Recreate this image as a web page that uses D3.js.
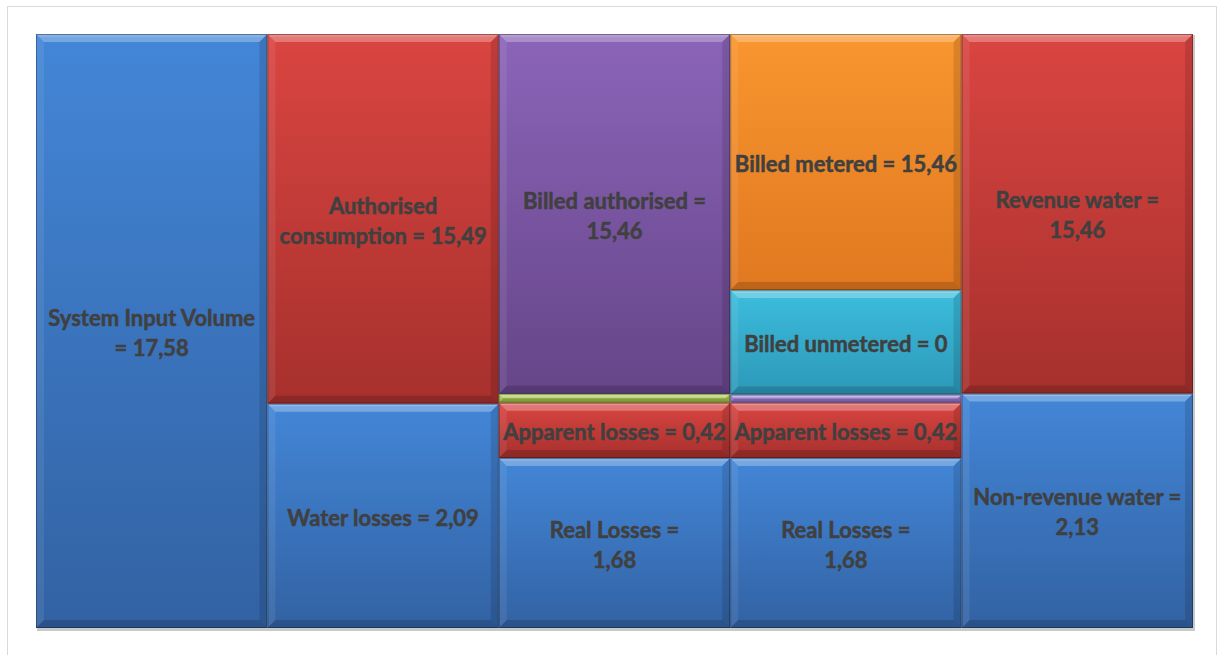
<!DOCTYPE html>
<html>
<head>
<meta charset="utf-8">
<script src="https://cdn.jsdelivr.net/npm/d3@7"></script>
<style>
  body { margin: 0; background: #fff; }
  svg { display: block; }
  text { font-family: Lato, "Open Sans", sans-serif; font-weight: bold; fill: #404040; stroke: #404040; stroke-width: 0.5px; }
</style>
</head>
<body>
<div id="chart"></div>
<script>
// columns of the water balance (no axis labels shown)
const categories = ["Input", "Consumption", "Billing", "Metering", "Revenue"];

// stacked segment heights per column, bottom to top
const segValues = [
  [17.58],
  [6.64, 10.94],
  [5.03, 1.64, 0.26, 10.65],
  [5.03, 1.64, 0.24, 3.09, 7.58],
  [6.94, 10.64]
];

// label text per segment ("" = no label)
const segLabels = [
  ["System Input Volume\n= 17,58"],
  ["Water losses = 2,09", "Authorised\nconsumption = 15,49"],
  ["Real Losses =\n1,68", "Apparent losses = 0,42", "", "Billed authorised =\n15,46"],
  ["Real Losses =\n1,68", "Apparent losses = 0,42", "", "Billed unmetered = 0", "Billed metered = 15,46"],
  ["Non-revenue water =\n2,13", "Revenue water =\n15,46"]
];

// colour keys per segment
const segColors = [
  ["blue"],
  ["blue", "red"],
  ["blue", "red", "green", "purple"],
  ["blue", "red", "lilac", "cyan", "orange"],
  ["blue", "red"]
];

const palette = {
  blue:   ["#4386d7", "#3262a3"],
  red:    ["#da4541", "#a6302d"],
  purple: ["#8b64b9", "#664588"],
  orange: ["#f9962f", "#e07820"],
  cyan:   ["#3cbddd", "#2d98b8"],
  green:  ["#b0d058", "#98b840"],
  lilac:  ["#a084d6", "#8a6cc2"]
};

const width = 1217, height = 655;
const margin = {left: 36, top: 34, right: 24, bottom: 27};

const svg = d3.select("#chart").append("svg")
  .attr("width", width)
  .attr("height", height);

// outer chart border
svg.append("rect")
  .attr("x", 7.5).attr("y", 6.5)
  .attr("width", 1209).attr("height", 660)
  .attr("fill", "none")
  .attr("stroke", "#d9d9d9");

const x = d3.scaleBand()
  .domain(categories)
  .range([margin.left, width - margin.right])
  .padding(0);

const y = d3.scaleLinear()
  .domain([0, 17.58])
  .range([height - margin.bottom, margin.top]);

// plot shadow
svg.append("rect")
  .attr("x", x.range()[0] + 1)
  .attr("y", y(17.58) + 1)
  .attr("width", x.range()[1] - x.range()[0] + 1)
  .attr("height", y(0) - y(17.58) + 2)
  .attr("fill", "#c9c9c9");

const defs = svg.append("defs");
Object.keys(palette).forEach(k => {
  const g = defs.append("linearGradient")
    .attr("id", "grad-" + k)
    .attr("x1", 0).attr("y1", 0).attr("x2", 0).attr("y2", 1);
  g.append("stop").attr("offset", "0%").attr("stop-color", palette[k][0]);
  g.append("stop").attr("offset", "100%").attr("stop-color", palette[k][1]);
});

// flatten into segments
let segs = [];
categories.forEach((c, i) => {
  let acc = 0;
  segValues[i].forEach((v, j) => {
    segs.push({cat: c, y0: acc, y1: acc + v, label: segLabels[i][j], color: segColors[i][j]});
    acc += v;
  });
});

const g = svg.append("g");

segs.forEach(d => {
  const x0 = x(d.cat), x1 = x0 + x.bandwidth();
  const top = y(d.y1), bot = y(d.y0);
  const h = bot - top;
  const b = Math.min(8, h / 2);
  const sg = g.append("g");

  sg.append("rect")
    .attr("x", x0).attr("y", top)
    .attr("width", x1 - x0).attr("height", h)
    .attr("fill", "url(#grad-" + d.color + ")");

  // bevel edges
  const bevel = [
    {pts: [[x0, top], [x1, top], [x1 - b, top + b], [x0 + b, top + b]], fill: "rgba(255,255,255,0.28)"},
    {pts: [[x0, top], [x0 + b, top + b], [x0 + b, bot - b], [x0, bot]], fill: "rgba(255,255,255,0.08)"},
    {pts: [[x1, top], [x1, bot], [x1 - b, bot - b], [x1 - b, top + b]], fill: "rgba(0,0,0,0.12)"},
    {pts: [[x0, bot], [x0 + b, bot - b], [x1 - b, bot - b], [x1, bot]], fill: "rgba(0,0,0,0.16)"}
  ];
  bevel.forEach(p => {
    sg.append("polygon")
      .attr("points", p.pts.map(q => q.join(",")).join(" "))
      .attr("fill", p.fill);
  });
  // bright line near the top
  sg.append("line")
    .attr("x1", x0 + 2).attr("x2", x1 - 2)
    .attr("y1", top + Math.min(2, h / 4)).attr("y2", top + Math.min(2, h / 4))
    .attr("stroke", "rgba(255,255,255,0.25)");

  sg.append("rect")
    .attr("x", x0 + 0.5).attr("y", top + 0.5)
    .attr("width", x1 - x0 - 1).attr("height", Math.max(0, h - 1))
    .attr("fill", "none")
    .attr("stroke", "rgba(0,0,0,0.3)");

  if (d.label) {
    const lines = d.label.split("\n");
    const cy = (top + bot) / 2 + 2;
    const lh = 30;
    const t = g.append("text")
      .attr("text-anchor", "middle")
      .style("font-size", "22px");
    lines.forEach((ln, k) => {
      t.append("tspan")
        .attr("x", (x0 + x1) / 2)
        .attr("y", cy + (k - (lines.length - 1) / 2) * lh)
        .attr("dy", "0.35em")
        .text(ln);
    });
  }
});
</script>
</body>
</html>
